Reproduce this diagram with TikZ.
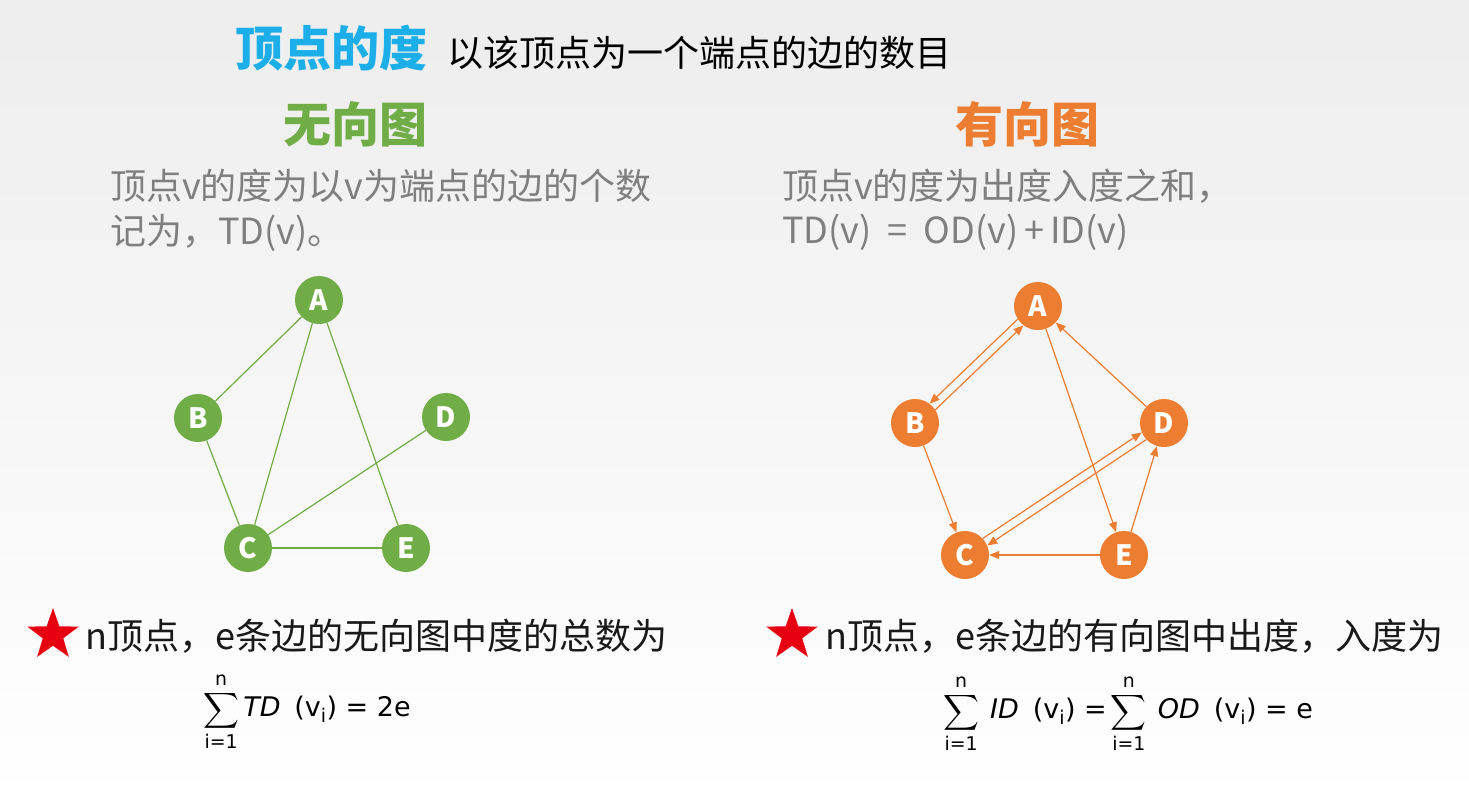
\documentclass[tikz,border=0pt]{standalone}
\usepackage{fontspec}
\usepackage{amsmath}
\setmainfont{Noto Sans CJK SC}
\newfontfamily\formfont{DejaVu Sans}
\usetikzlibrary{arrows.meta,shapes.geometric}
\definecolor{titleblue}{HTML}{1BAEE8}
\definecolor{graphgreen}{HTML}{70AD47}
\definecolor{graphorange}{HTML}{ED7D31}
\definecolor{notegray}{HTML}{7F7F7F}
\definecolor{starred}{HTML}{E60012}
\begin{document}
\begin{tikzpicture}[x=1pt,y=-1pt,
  vtx/.style={circle,minimum size=48pt,inner sep=0pt,text=white,font=\fontsize{28}{28}\selectfont\bfseries},
  gvtx/.style={vtx,fill=graphgreen},
  ovtx/.style={vtx,fill=graphorange},
  uedge/.style={graphgreen,line width=1.2pt},
  dedge/.style={graphorange,line width=1.2pt,-{Triangle[length=10pt,width=8pt]}},
  txt/.style={anchor=base west,inner sep=0pt},
  note/.style={txt,text=notegray,font=\fontsize{36}{40}\selectfont},
  rule/.style={txt,text=black!90,font=\fontsize{36}{40}\selectfont},
  formula/.style={anchor=west,inner sep=0pt,font=\formfont\fontsize{27}{30}\selectfont},
  redstar/.style={star,star points=5,star point ratio=2.5,minimum size=54pt,inner sep=0pt,fill=starred}]
\useasboundingbox (0,0) rectangle (1469,803);
\fill[top color=black!7,bottom color=white] (0,0) rectangle (1469,803);
% heading
\node[txt,text=titleblue,font=\fontsize{48}{48}\selectfont\bfseries] (title) at (235,66) {顶点的度};
\node[txt,font=\fontsize{36}{40}\selectfont] (titledef) at (447,66) {以该顶点为一个端点的边的数目};
\node[txt,text=graphgreen,font=\fontsize{48}{48}\selectfont\bfseries] (undir) at (283,142) {无向图};
\node[txt,text=graphorange,font=\fontsize{48}{48}\selectfont\bfseries] (dir) at (955,142) {有向图};
\node[note] (undirdef) at (110,199) {顶点v的度为以v为端点的边的个数};
\node[note] (undirdefb) at (110,244) {记为，TD(v)。};
\node[note] (dirdef) at (782,199) {顶点v的度为出度入度之和，};
\node[note] (dirdefb) at (782,243) {TD(v)\ \ =\ \ OD(v)\,+\,ID(v)};
% undirected graph
\node[gvtx] (A) at (319,300) {A};
\node[gvtx] (B) at (198,418) {B};
\node[gvtx] (C) at (248,548) {C};
\node[gvtx] (D) at (446,417) {D};
\node[gvtx] (E) at (406,548) {E};
\draw[uedge] (A) -- (B);
\draw[uedge] (A) -- (C);
\draw[uedge] (A) -- (E);
\draw[uedge] (B) -- (C);
\draw[uedge] (C) -- (D);
\draw[uedge] (C) -- (E);
% directed graph
\node[ovtx] (a) at (1038,306) {A};
\node[ovtx] (b) at (915,423) {B};
\node[ovtx] (c) at (965,555) {C};
\node[ovtx] (d) at (1164,423) {D};
\node[ovtx] (e) at (1124,555) {E};
\draw[dedge] (a.213.6) -- (b.53.6);
\draw[dedge] (b.33.6) -- (a.233.6);
\draw[dedge] (b) -- (c);
\draw[dedge] (a) -- (e);
\draw[dedge] (d) -- (a);
\draw[dedge] (e) -- (d);
\draw[dedge] (c.43.6) -- (d.203.6);
\draw[dedge] (d.223.6) -- (c.23.6);
\draw[dedge] (e) -- (c);
% degree sums
\node[redstar] (starL) at (53,635) {};
\node[rule] (ruleL) at (85,649) {n顶点，e条边的无向图中度的总数为};
\node[redstar] (starR) at (792,635) {};
\node[rule] (ruleR) at (825,649) {n顶点，e条边的有向图中出度，入度为};
\node[formula] (sumL) at (203,712) {$\displaystyle\sum_{\text{i=1}}^{\text{n}}\text{\itshape TD}\;\;\text{(v\textsubscript{i}) = 2e}$};
\node[formula] (sumR) at (943,714) {$\displaystyle\sum_{\text{i=1}}^{\text{n}}\;\text{\itshape ID}\;\;\text{(v\textsubscript{i}) =}\sum_{\text{i=1}}^{\text{n}}\;\text{\itshape OD}\;\;\text{(v\textsubscript{i}) = e}$};
\end{tikzpicture}
\end{document}
